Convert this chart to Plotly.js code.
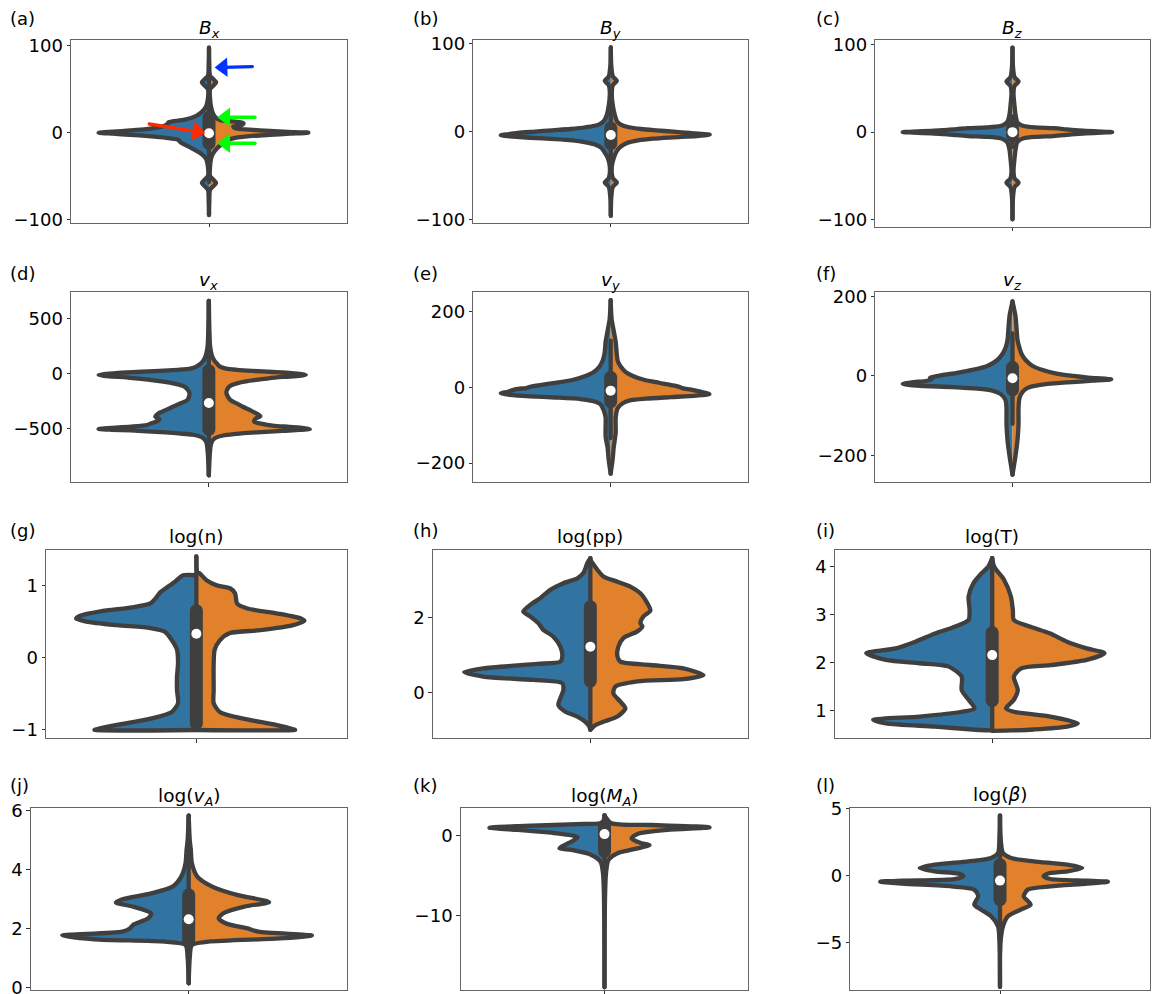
<!DOCTYPE html>
<html>
<head>
<meta charset="utf-8">
<script src="https://cdn.plot.ly/plotly-3.0.1.min.js"></script>
<style>
html,body{margin:0;padding:0;background:#fff;}
#chart{width:1152px;height:994px;}
.scatterlayer path.js-line{stroke-linejoin:round !important;stroke-linecap:round !important;}
</style>
</head>
<body>
<div id="chart"></div>
<script>
// ---------------- DATA ----------------
// Each violin half: [value, relative density] pairs (density normalised per panel)
const aLeft = [[98,0],[80,0.3],[66,1],[62,4],[58,7],[54,4],[50,1],[40,1],[30,3],[24,7],[19,13],[15,24],[13,36],[12,40],[10,41],[8,44],[6,50],[4,62],[2.5,78],[1.2,95],[0,109],[-1.2,95],[-2.5,78],[-4,60],[-6,42],[-8,31],[-10,29],[-12,27],[-15,22],[-20,14],[-25,7],[-30,3],[-40,1],[-50,1],[-54,4],[-58,7],[-62,4],[-66,1],[-80,0.3],[-95,0]];
const aRight = [[98,0],[80,0.3],[66,1],[62,4],[58,7],[54,4],[50,1],[40,1],[30,2],[22,4],[17,7],[14,12],[12.5,28],[11,34],[9,33],[7,24],[5,26],[3.5,40],[2,60],[1,78],[0,98],[-1.2,80],[-2.5,60],[-4,40],[-6,26],[-8,20],[-10,17],[-14,12],[-18,8],[-24,4],[-30,2],[-40,1],[-50,1],[-54,4],[-58,7],[-62,4],[-66,1],[-80,0.3],[-95,0]];

const bLeft = [[96,0],[75,0.5],[63,2],[58,6],[53,2],[45,1],[30,2],[19,4],[12,7],[8,12],[5,25],[3,40],[1.5,58],[0,75],[-1.5,92],[-3,102],[-4.2,109],[-5.5,100],[-7,80],[-8.5,55],[-10,38],[-12,26],[-15,15],[-19,9],[-24,6],[-30,3],[-40,1],[-53,2],[-58,6],[-63,2],[-75,0.5],[-96,0]];
const bRight = [[96,0],[75,0.5],[63,2],[58,6],[53,2],[45,1],[30,2],[19,4],[12,6],[8,10],[5,18],[3,30],[1.5,45],[0,62],[-1.5,78],[-3.4,98],[-5,85],[-6.5,62],[-8,42],[-10,27],[-13,16],[-17,10],[-22,6],[-30,3],[-40,1],[-53,2],[-58,6],[-63,2],[-75,0.5],[-96,0]];

const cLeft = [[97,0],[75,0.5],[63,2],[58,6],[53,2],[45,1],[30,2],[20,3],[12,5],[9,8],[7,12],[5.5,25],[4.5,44],[3.5,55],[2.5,64],[1.5,80],[0.5,98],[0,108],[-0.5,98],[-1.5,80],[-2.5,64],[-3.5,55],[-4.5,44],[-5.5,25],[-7,12],[-9,8],[-12,5],[-20,3],[-30,2],[-45,1],[-53,2],[-58,6],[-63,2],[-75,0.5],[-100,0]];
const cRight = [[97,0],[75,0.5],[63,2],[58,6],[53,2],[45,1],[30,2],[20,3],[12,4.5],[9,7],[7,11],[5.5,22],[4.5,40],[3.5,50],[2.5,58],[1.5,72],[0.5,88],[0,98],[-0.5,88],[-1.5,72],[-2.5,58],[-3.5,50],[-4.5,40],[-5.5,22],[-7,11],[-9,7],[-12,4.5],[-20,3],[-30,2],[-45,1],[-53,2],[-58,6],[-63,2],[-75,0.5],[-100,0]];

const dLeft = [[660,0],[400,0.5],[250,1.2],[180,2.5],[140,4],[110,6],[90,8],[70,11],[55,14],[45,18],[35,30],[25,48],[15,70],[5,90],[-5,102],[-12,107],[-25,97],[-33,80],[-45,68],[-54,59],[-70,46],[-85,36],[-100,29],[-115,24],[-140,21],[-170,19],[-200,19],[-240,21],[-270,28],[-300,35],[-330,42],[-360,49],[-390,52],[-410,48],[-430,50],[-450,56],[-465,60],[-480,76],[-492,95],[-501,107],[-508,95],[-514,76],[-522,60],[-532,42],[-543,27],[-553,16],[-565,10],[-580,6],[-620,2.5],[-700,1.2],[-920,0]];
const dRight = [[660,0],[400,0.5],[250,1.2],[180,2.5],[140,4],[110,6],[90,8],[70,10],[55,13],[45,17],[35,27],[25,42],[15,62],[5,80],[-5,90],[-12,94],[-20,88],[-30,72],[-42,58],[-54,48],[-70,36],[-85,28],[-100,23],[-115,20],[-140,18],[-170,17],[-200,18],[-240,21],[-270,27],[-300,33],[-330,40],[-360,46],[-385,50],[-410,45],[-435,44],[-455,52],[-470,62],[-482,78],[-493,92],[-502,98],[-510,88],[-518,72],[-527,55],[-537,38],[-548,24],[-560,14],[-575,8],[-600,4],[-640,2],[-720,1],[-920,0]];

const eLeft = [[230,0],[180,1],[150,3],[120,5],[90,6],[70,8],[55,11],[40,17],[30,25],[20,37],[12,55],[6,70],[1.5,80],[0,82],[-2,83],[-4,92],[-8,98],[-12,102],[-16,109],[-20,100],[-24,80],[-27,55],[-31,30],[-36,18],[-45,10],[-60,7],[-80,5],[-100,5],[-130,5],[-160,3],[-190,2],[-228,0]];
const eRight = [[230,0],[180,1],[150,3],[120,5],[90,6],[70,7],[55,10],[40,15],[30,22],[20,33],[12,48],[5,62],[1,68],[-1,70],[-3,72],[-6,80],[-12,90],[-18,98],[-22,85],[-26,60],[-30,35],[-34,20],[-42,12],[-55,7],[-80,5],[-120,5],[-160,3],[-190,2],[-228,0]];

const fLeft = [[187,0],[150,3],[120,4],[90,5],[70,7],[55,10],[40,15],[25,25],[15,40],[8,55],[2,70],[-2,78],[-5,82],[-8,80],[-12,85],[-16,100],[-20,109],[-24,95],[-28,60],[-32,35],[-37,20],[-45,12],[-60,7],[-80,6],[-120,6],[-160,5],[-200,3],[-248,0]];
const fRight = [[187,0],[150,3],[120,4],[90,5],[70,7],[55,9],[40,13],[25,20],[15,30],[5,45],[0,60],[-4,75],[-8.4,98],[-12,80],[-16,55],[-20,35],[-25,22],[-30,15],[-40,10],[-55,7],[-80,6],[-120,6],[-160,5],[-200,3],[-248,0]];

const gLeft = [[1.14,0],[1.14,13],[1.05,21],[0.98,28],[0.91,35],[0.82,40],[0.75,45],[0.70,61],[0.64,94],[0.58,114],[0.54,118],[0.50,108],[0.45,78],[0.41,45],[0.36,31],[0.24,24],[0.11,19],[-0.08,18],[-0.26,19],[-0.45,19],[-0.63,18],[-0.75,24],[-0.84,44],[-0.93,78],[-0.99,98],[-1.0,100],[-1.0,0]];
const gRight = [[1.40,0],[1.18,1],[1.17,3],[1.07,10],[1.0,20],[0.96,33],[0.89,38],[0.75,40],[0.68,50],[0.61,80],[0.54,103],[0.51,106],[0.45,95],[0.38,63],[0.34,33],[0.24,23],[0.11,18],[-0.08,17],[-0.45,17],[-0.63,17],[-0.75,23],[-0.84,45],[-0.93,78],[-0.99,95],[-1.0,97],[-1.0,0]];

const hLeft = [[3.59,0],[3.46,3],[3.19,7],[3.05,13],[2.92,27],[2.74,40],[2.52,50],[2.34,60],[2.16,67],[2.03,60],[1.85,52],[1.67,47],[1.49,37],[1.22,30],[0.96,28],[0.82,30],[0.76,53],[0.64,107],[0.54,126],[0.42,107],[0.33,57],[0.24,28],[0.06,27],[-0.16,30],[-0.34,32],[-0.52,25],[-0.65,13],[-0.79,5],[-0.92,1],[-1.0,0]];
const hRight = [[3.54,0],[3.28,7],[3.1,13],[2.96,27],[2.83,40],[2.65,50],[2.38,57],[2.19,60],[2.03,53],[1.85,50],[1.76,52],[1.63,47],[1.45,33],[1.22,28],[0.96,27],[0.82,30],[0.73,60],[0.64,93],[0.46,113],[0.35,93],[0.29,47],[0.15,25],[-0.03,23],[-0.25,30],[-0.43,35],[-0.65,27],[-0.79,13],[-0.88,5],[-1.0,0]];

const iLeft = [[4.17,0],[3.99,4],[3.85,11],[3.65,19],[3.37,24],[3.09,23],[2.88,24],[2.74,38],[2.60,58],[2.43,78],[2.29,98],[2.19,128],[2.05,108],[1.98,74],[1.91,44],[1.70,31],[1.42,31],[1.22,24],[1.04,18],[0.97,31],[0.87,74],[0.80,121],[0.73,108],[0.66,58],[0.60,20],[0.58,0]];
const iRight = [[4.17,0],[3.99,2],[3.72,12],[3.37,19],[3.09,21],[2.88,22],[2.74,39],[2.60,59],[2.43,76],[2.29,96],[2.19,114],[2.05,96],[1.94,59],[1.87,29],[1.70,22],[1.42,26],[1.22,22],[1.04,14],[0.97,22],[0.87,59],[0.73,87],[0.66,76],[0.60,42],[0.58,20],[0.57,0]];

const jLeft = [[5.83,0],[5.0,1],[4.67,2],[4.21,3],[3.76,7],[3.42,15],[3.19,35],[2.99,62],[2.88,68],[2.74,52],[2.51,35],[2.34,38],[2.12,52],[2.0,55],[1.89,62],[1.76,118],[1.63,88],[1.55,22],[1.44,3],[1.0,1],[0.14,0]];
const jRight = [[5.83,0],[5.0,1],[4.67,2],[4.21,3],[3.76,8],[3.42,22],[3.14,45],[2.94,72],[2.89,75],[2.74,52],[2.51,32],[2.34,28],[2.17,35],[2.0,55],[1.89,65],[1.76,115],[1.66,85],[1.55,18],[1.44,3],[1.0,1],[0.14,0]];

const kLeft = [[2.5,0],[1.58,2],[1.42,20],[1.17,80],[0.96,115],[0.67,87],[0.33,53],[-0.25,27],[-0.79,33],[-1.42,43],[-1.63,45],[-1.83,33],[-2.46,13],[-3.29,4],[-4.75,1.5],[-8,0.5],[-19,0]];
const kRight = [[2.5,0],[1.5,7],[1.29,47],[1.0,105],[0.67,63],[0.17,33],[-0.38,27],[-1.0,37],[-1.21,45],[-1.63,33],[-2.25,13],[-3.08,4],[-4.75,1.5],[-8,0.5],[-19,0]];

const lLeft = [[4.48,0],[3,0.5],[1.69,2],[1.32,9],[1.07,32],[0.82,66],[0.57,81],[0.32,66],[0.15,42],[-0.05,37],[-0.25,46],[-0.37,99],[-0.45,121],[-0.6,99],[-0.8,49],[-1.04,26],[-1.54,22],[-2.16,26],[-2.54,19],[-3.03,9],[-3.78,2],[-5,0.5],[-8.3,0]];
const lRight = [[4.48,0],[3,0.5],[1.69,3],[1.32,11],[1.07,34],[0.82,68],[0.57,83],[0.32,68],[0.15,48],[-0.05,44],[-0.25,51],[-0.37,88],[-0.45,109],[-0.6,88],[-0.8,51],[-1.04,28],[-1.54,24],[-2.16,31],[-2.54,21],[-3.03,8],[-3.78,3],[-5,0.5],[-8.3,0]];

const panelLabels = ['(a)','(b)','(c)','(d)','(e)','(f)','(g)','(h)','(i)','(j)','(k)','(l)'];
const titles = ['<i>B</i><sub><i>x</i></sub>','<i>B</i><sub><i>y</i></sub>','<i>B</i><sub><i>z</i></sub>',
  '<i>v</i><sub><i>x</i></sub>','<i>v</i><sub><i>y</i></sub>','<i>v</i><sub><i>z</i></sub>',
  'log(n)','log(pp)','log(T)',
  'log(<i>v</i><sub><i>A</i></sub>)','log(<i>M</i><sub><i>A</i></sub>)','log(<i>β</i>)'];
const medians = [-0.7,-3.8,0,-266,-8.8,-5.9,0.33,1.22,2.15,2.31,0.15,-0.37];
const q1s = [-12.3,-13.7,-4,-505,-37.9,-35,-0.91,0.30,1.20,1.61,-2.0,-1.79];
const q3s = [17.7,4.2,5,27,26.4,21.8,0.65,2.29,2.62,3.14,1.2,0.82];
const whiskerLo = [-57,-40,-17,-920,-134,-120,-1.0,-1.0,0.58,0.14,-6.8,-5.7];
const whiskerHi = [62,31,18,660,123,107,1.40,3.59,4.17,5.83,2.5,4.48];
const tickVals = [[-100,0,100],[-100,0,100],[-100,0,100],[-500,0,500],[-200,0,200],[-200,0,200],[-1,0,1],[0,2],[1,2,3,4],[0,2,4,6],[-10,0],[-5,0,5]];
const yRanges = [[-103.9,106.9],[-103.9,104.2],[-108.5,105.7],[-984,737],[-251,251],[-267,210],[-1.115,1.485],[-1.232,3.80],[0.417,4.333],[-0.09,6.10],[-19.34,3.45],[-8.53,5.07]];
// highlighted value in panel (a) for each arrow: q3, q1, median, upper tail
const arrowTargets = [q3s[0], q1s[0], medians[0], 75];

const leftHalves = [aLeft,bLeft,cLeft,dLeft,eLeft,fLeft,gLeft,hLeft,iLeft,jLeft,kLeft,lLeft];
const rightHalves = [aRight,bRight,cRight,dRight,eRight,fRight,gRight,hRight,iRight,jRight,kRight,lRight];

// ---------------- LAYOUT (pixel boxes of each axes) ----------------
const W = 1152, H = 994;
const boxes = [
  [71,347,40,222.7],[473.3,748.3,40.3,222.7],[875.3,1149.7,40,226.7],
  [71,346.7,292.3,482.3],[473.3,748,292.3,482.3],[875.3,1149.7,292.3,482.3],
  [46,346.7,550.3,738.3],[432.7,748,550.3,738.3],[834.7,1149.7,550.3,738.3],
  [30.7,346.7,807.7,990],[460.7,748.3,807.7,990],[850.3,1149.7,807.7,990]
];
const labelPos = [[8,18],[411,18],[814,18],[8,273],[411,273],[814,273],[8,530],[411,530],[814,530],[8,785],[411,785],[814,785]];

const BLUE = '#3274a1', ORANGE = '#e1812c', DARK = '#3f3f3f';
const LW = 4.3, HALF = 0.4;
const fontFam = 'DejaVu Sans, sans-serif';
const fmt = v => (v < 0 ? '\u2212' + Math.abs(v) : String(v));

const traces = [];
const layout = {
  width: W, height: H, margin: {l:0,r:0,t:0,b:0},
  paper_bgcolor: '#fff', plot_bgcolor: '#fff', showlegend: false,
  annotations: [], font: {family: fontFam, color: '#000', size: 18}
};

function halfPath(pairs, sign, maxD) {
  const xs = [], ys = [];
  if (pairs[0][1] !== 0) { xs.push(0); ys.push(pairs[0][0]); }
  pairs.forEach(p => { xs.push(sign * p[1] / maxD * HALF); ys.push(p[0]); });
  const last = pairs[pairs.length-1];
  if (last[1] !== 0) { xs.push(0); ys.push(last[0]); }
  return {xs, ys};
}

for (let i = 0; i < 12; i++) {
  const n = i + 1;
  const xa = 'x' + (n === 1 ? '' : n), ya = 'y' + (n === 1 ? '' : n);
  const L = leftHalves[i], R = rightHalves[i];
  const maxD = Math.max(...L.map(p => p[1]), ...R.map(p => p[1]));
  const lp = halfPath(L, -1, maxD), rp = halfPath(R, 1, maxD);
  traces.push({type:'scatter', mode:'lines', x: lp.xs, y: lp.ys, xaxis: xa, yaxis: ya,
    fill:'toself', fillcolor: BLUE, line:{color: DARK, width: LW, shape:'spline', smoothing:0.7}, hoverinfo:'skip'});
  traces.push({type:'scatter', mode:'lines', x: rp.xs, y: rp.ys, xaxis: xa, yaxis: ya,
    fill:'toself', fillcolor: ORANGE, line:{color: DARK, width: LW, shape:'spline', smoothing:0.7}, hoverinfo:'skip'});
  traces.push({type:'scatter', mode:'lines', x:[0,0], y:[whiskerLo[i], whiskerHi[i]], xaxis: xa, yaxis: ya,
    line:{color: DARK, width: LW}, hoverinfo:'skip'});
  traces.push({type:'scatter', mode:'lines', x:[0,0], y:[q1s[i], q3s[i]], xaxis: xa, yaxis: ya,
    line:{color: DARK, width: 13}, hoverinfo:'skip'});
  traces.push({type:'scatter', mode:'markers', x:[0], y:[medians[i]], xaxis: xa, yaxis: ya,
    marker:{color:'#ffffff', size: 10, line:{width:0}}, hoverinfo:'skip'});

  const b = boxes[i];
  const key = n === 1 ? '' : n;
  layout['xaxis' + key] = {
    domain: [b[0]/W, b[1]/W], anchor: ya, range: [-0.5, 0.5],
    showgrid: false, zeroline: false, showline: true, mirror: true,
    linecolor: '#666', linewidth: 1, showticklabels: false,
    tickmode: 'array', tickvals: [0], ticks: 'outside', ticklen: 3.5, tickwidth: 1, tickcolor: '#333',
    fixedrange: true
  };
  layout['yaxis' + key] = {
    domain: [1 - b[3]/H, 1 - b[2]/H], anchor: xa, range: yRanges[i],
    showgrid: false, zeroline: false, showline: true, mirror: true,
    linecolor: '#666', linewidth: 1, ticklabeloverflow: 'allow',
    tickmode: 'array', tickvals: tickVals[i], ticktext: tickVals[i].map(fmt),
    ticks: 'outside', ticklen: 3.5, tickwidth: 1, tickcolor: '#333',
    tickfont: {family: fontFam, size: 18, color: '#000'}, fixedrange: true
  };
  const hasSub = titles[i].indexOf('<sub>') >= 0;
  layout.annotations.push({xref:'paper', yref:'paper', x: (b[0]+b[1])/2/W, y: 1 - (b[2]-2)/H,
    xanchor:'center', yanchor:'bottom', yshift: hasSub ? -5 : -1, text: titles[i], showarrow:false,
    font:{family: fontFam, size: 18.5, color:'#000'}});
  layout.annotations.push({xref:'paper', yref:'paper', x: labelPos[i][0]/W, y: 1 - labelPos[i][1]/H,
    xanchor:'left', yanchor:'middle', text: panelLabels[i], showarrow:false,
    font:{family: fontFam, size: 18, color:'#000'}});
}

// ---------------- arrows in panel (a), drawn as line + triangle head ----------------
const bA = boxes[0];
const pxX = (bA[1]-bA[0]) / 1.0;                            // px per x unit
const pxY = (bA[3]-bA[2]) / (yRanges[0][1]-yRanges[0][0]); // px per y unit
// [tip offset x px from centre, tail dx px, tail dy px (screen), colour]
const arrowStyle = [
  [7, 39, 0, '#00ff00'],
  [7, 39, 0, '#00ff00'],
  [-2.3, -57.4, -9.3, '#ff2a00'],
  [4.3, 39, -1, '#0033ff']
];
const HEAD = 17, TIP = HEAD/2*2/Math.sqrt(3);
arrowTargets.forEach((val, k) => {
  const [tx, dx, dy, col] = arrowStyle[k];
  const len = Math.hypot(dx, dy);
  const ux = -dx/len, uy = -dy/len;          // unit vector tail -> tip (screen)
  const cx = tx - ux*TIP, cy = -uy*TIP;      // marker centre relative to target (screen px)
  const toX = p => p / pxX, toY = p => -p / pxY;
  const centreX = toX(cx), centreY = val + toY(cy);
  const tailX = toX(tx + dx), tailY = val + toY(dy);
  const ang = Math.atan2(uy, ux) * 180 / Math.PI;
  traces.push({type:'scatter', mode:'lines', x:[tailX, centreX], y:[tailY, centreY],
    line:{color: col, width: 3.4}, hoverinfo:'skip', xaxis:'x', yaxis:'y'});
  traces.push({type:'scatter', mode:'markers', x:[centreX], y:[centreY],
    marker:{symbol:'triangle-right', angle: ang, size: HEAD, color: col, line:{width:0}},
    hoverinfo:'skip', xaxis:'x', yaxis:'y'});
});

Plotly.newPlot('chart', traces, layout, {staticPlot:true, displayModeBar:false});
</script>
</body>
</html>
